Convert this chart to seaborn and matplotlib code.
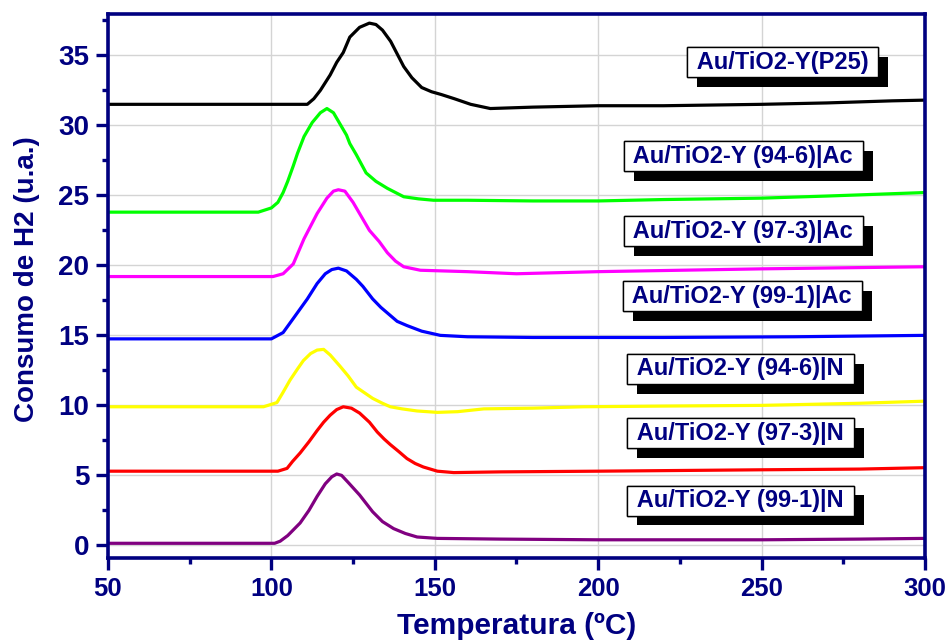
import numpy as np
import pandas as pd
import seaborn as sns
import matplotlib

matplotlib.use("agg")
import matplotlib.pyplot as plt
import matplotlib.patheffects as pe
from matplotlib.ticker import MultipleLocator

# series (temperature in ºC, H2 consumption in a.u.)
labels = [
    "Au/TiO2-Y(P25)",
    "Au/TiO2-Y (94-6)|Ac",
    "Au/TiO2-Y (97-3)|Ac",
    "Au/TiO2-Y (99-1)|Ac",
    "Au/TiO2-Y (94-6)|N",
    "Au/TiO2-Y (97-3)|N",
    "Au/TiO2-Y (99-1)|N",
]

t_p25 = [50, 111, 113, 115, 118, 120, 122, 124, 127, 130, 132, 134, 136.5, 138.5, 140.5,
         143, 146, 149, 152, 156, 161, 167, 180, 200, 220, 250, 270, 290, 300]
h_p25 = [31.5, 31.5, 31.9, 32.5, 33.6, 34.5, 35.2, 36.3, 37.0, 37.3, 37.2, 36.8, 36.0, 35.1, 34.2,
         33.4, 32.7, 32.4, 32.2, 31.9, 31.5, 31.2, 31.3, 31.4, 31.4, 31.5, 31.6, 31.75, 31.8]

t_946ac = [50, 96, 100, 102, 103.6, 105, 106.7, 108, 110, 112.5, 115, 117, 119, 121, 123, 124,
           126, 129, 132, 135.5, 138, 140.5, 145, 149.6, 160, 180, 200, 220, 250, 270, 300]
h_946ac = [23.8, 23.8, 24.1, 24.5, 25.2, 26.0, 27.1, 28.0, 29.2, 30.2, 30.9, 31.2, 30.9, 30.1, 29.3, 28.7,
           27.9, 26.6, 26.0, 25.5, 25.2, 24.9, 24.75, 24.65, 24.65, 24.6, 24.6, 24.7, 24.8, 24.95, 25.2]

t_973ac = [50, 100.5, 103.6, 106.7, 110, 114, 117, 119, 120.5, 122.5, 125, 127, 130, 133, 135.5,
           138, 140.5, 145.6, 160, 175, 200, 250, 300]
h_973ac = [19.2, 19.2, 19.4, 20.1, 21.9, 23.7, 24.8, 25.3, 25.4, 25.3, 24.5, 23.7, 22.5, 21.7, 20.9,
           20.3, 19.9, 19.65, 19.55, 19.4, 19.55, 19.75, 19.9]

t_991ac = [50, 100, 103.6, 107, 111, 114, 116.5, 118.5, 120.5, 123, 126, 128, 131, 133.5, 136,
           138.5, 141.5, 146, 151.7, 160, 180, 220, 260, 300]
h_991ac = [14.75, 14.75, 15.2, 16.3, 17.6, 18.7, 19.4, 19.7, 19.8, 19.6, 19.0, 18.5, 17.6, 17.0, 16.5,
           16.0, 15.7, 15.3, 15.0, 14.9, 14.85, 14.85, 14.9, 15.0]

t_946n = [50, 97.6, 101.7, 103.5, 105.7, 108, 109.8, 112, 114, 116, 118, 121, 123.5, 126, 128.5,
          131, 134, 136.4, 140, 144.6, 150.8, 157, 165, 180, 195.5, 220, 250, 280, 300]
h_946n = [9.9, 9.9, 10.2, 10.9, 11.8, 12.6, 13.2, 13.7, 13.95, 14.0, 13.6, 12.8, 12.1, 11.3, 10.9,
          10.5, 10.15, 9.9, 9.75, 9.6, 9.5, 9.55, 9.75, 9.8, 9.9, 9.95, 10.0, 10.15, 10.3]

t_973n = [50, 102, 104.8, 106.5, 108.8, 111.5, 114, 116, 118, 120, 122, 124.5, 127, 130, 132.4,
          134.5, 136.4, 139, 141.5, 144, 146.5, 150.8, 155.8, 170, 200, 250, 280, 300]
h_973n = [5.3, 5.3, 5.5, 6.0, 6.6, 7.4, 8.2, 8.8, 9.3, 9.7, 9.9, 9.8, 9.45, 8.8, 8.1,
          7.6, 7.2, 6.7, 6.2, 5.85, 5.6, 5.3, 5.2, 5.25, 5.3, 5.4, 5.45, 5.55]

t_991n = [50, 101, 102.7, 105, 108.8, 111.5, 114, 116.5, 118.5, 120, 121.5, 123.5, 127, 129, 131,
          134, 137.4, 141, 144.6, 150.8, 170, 200, 250, 280, 300]
h_991n = [0.15, 0.15, 0.3, 0.7, 1.6, 2.5, 3.5, 4.4, 4.9, 5.1, 5.0, 4.5, 3.6, 3.0, 2.4,
          1.7, 1.2, 0.85, 0.6, 0.5, 0.45, 0.4, 0.4, 0.45, 0.5]

temps = [t_p25, t_946ac, t_973ac, t_991ac, t_946n, t_973n, t_991n]
values = [h_p25, h_946ac, h_973ac, h_991ac, h_946n, h_973n, h_991n]

colors = ["#000000", "#00ff00", "#ff00ff", "#0000ff", "#ffff00", "#ff0000", "#800080"]
# label box centres (data coords)
label_pos = [(256.5, 34.5), (244.5, 27.8), (244.5, 22.45), (244.2, 17.8),
             (243.6, 12.6), (243.6, 8.0), (243.6, 3.2)]

navy = "#000080"

sns.set_theme(style="whitegrid")
plt.rcParams["font.family"] = ["Liberation Sans", "DejaVu Sans"]
plt.rcParams["font.weight"] = "bold"

df = pd.concat(
    [pd.DataFrame({"T": t, "H2": v, "sample": lab}) for t, v, lab in zip(temps, values, labels)],
    ignore_index=True,
)

fig = plt.figure(figsize=(9.52, 6.43), dpi=100)
ax = fig.add_axes([0.1134, 0.1322, 0.8582, 0.846])

sns.lineplot(
    data=df, x="T", y="H2", hue="sample", hue_order=labels,
    palette=dict(zip(labels, colors)), estimator=None, sort=False,
    linewidth=2.3, legend=False, ax=ax,
)

ax.set_xlim(50, 300)
ax.set_ylim(-0.9, 37.95)
ax.xaxis.set_major_locator(MultipleLocator(50))
ax.xaxis.set_minor_locator(MultipleLocator(25))
ax.yaxis.set_major_locator(MultipleLocator(5))
ax.yaxis.set_minor_locator(MultipleLocator(2.5))

ax.grid(True, which="major", color="#d4d4d4", linewidth=1.0)
ax.grid(False, which="minor")
for s in ax.spines.values():
    s.set_color(navy)
    s.set_linewidth(2.6)
    s.set_visible(True)

ax.tick_params(axis="both", which="major", direction="out", length=8.5, width=2.4,
               color=navy, labelcolor=navy, pad=5, bottom=True, left=True)
ax.tick_params(axis="both", which="minor", direction="out", length=4.5, width=2.4,
               color=navy, bottom=True, left=True)
ax.tick_params(axis="x", which="major", labelsize=18.5)
ax.tick_params(axis="y", which="major", labelsize=20)
for lab in ax.get_xticklabels() + ax.get_yticklabels():
    lab.set_fontweight("bold")

ax.set_xlabel("Temperatura (ºC)", color=navy, fontsize=21.5, fontweight="bold")
ax.set_ylabel("Consumo de H2 (u.a.)", color=navy, fontsize=20, fontweight="bold")
ax.xaxis.set_label_coords(0.5, -0.1)
ax.yaxis.set_label_coords(-0.083, 0.513)

for lab, (x, y) in zip(labels, label_pos):
    t = ax.text(x, y, " " + lab + " ", ha="center", va="center", color=navy, fontsize=17,
                fontweight="bold",
                bbox=dict(boxstyle="square,pad=0.15", facecolor="white",
                          edgecolor="black", linewidth=1.0))
    t.get_bbox_patch().set_path_effects(
        [pe.withSimplePatchShadow(offset=(7, -7), shadow_rgbFace="black", alpha=1.0), pe.Normal()]
    )

fig.savefig("out.png", dpi=100)
